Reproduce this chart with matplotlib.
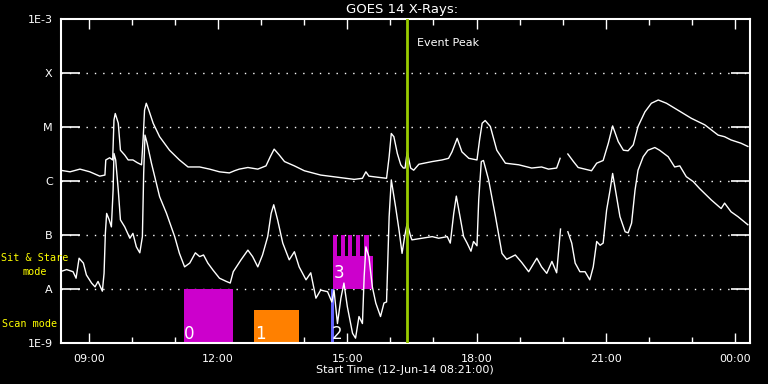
import numpy as np
import matplotlib
matplotlib.use('Agg')
import matplotlib.pyplot as plt
from matplotlib.ticker import FixedLocator, FixedFormatter

# GOES 14 long channel (hours of 12-Jun-14, log10 W/m^2), nan = data gap
t_long = [8.33, 8.56, 8.79, 9.02, 9.25, 9.37, 9.39, 9.48, 9.55, 9.58, 9.61, 9.68, 9.73, 9.83,
          9.91, 10.02, 10.12, 10.22, 10.26, 10.29, 10.33, 10.39, 10.49, 10.64, 10.87, 11.10,
          11.30, 11.57, 11.80, 12.03, 12.26, 12.38, 12.49, 12.69, 12.92, 13.11, 13.21, 13.30,
          13.42, 13.54, 13.77, 14.00, 14.38, 14.77, 15.16, 15.35, 15.43, 15.50, 15.70, 15.91,
          15.97, 16.02, 16.08, 16.16, 16.24, 16.30, 16.34, 16.39, 16.47, 16.54, 16.66, 16.97,
          17.20, 17.35, 17.43, 17.55, 17.66, 17.82, 18.01, 18.07, 18.13, 18.20, 18.32, 18.47,
          18.67, 18.98, 19.28, 19.51, 19.67, 19.86, 19.94, 20.03, 20.12, 20.25, 20.36, 20.67,
          20.79, 20.94, 21.06, 21.16, 21.29, 21.41, 21.52, 21.64, 21.75, 21.91, 22.06, 22.22,
          22.41, 22.68, 22.99, 23.30, 23.61, 23.76, 23.91, 24.14, 24.30]
f_long = [-5.80, -5.83, -5.78, -5.83, -5.91, -5.89, -5.61, -5.57, -5.61, -4.87, -4.75, -4.93,
          -5.43, -5.52, -5.61, -5.61, -5.66, -5.70, -5.18, -4.69, -4.56, -4.69, -4.93, -5.18,
          -5.43, -5.61, -5.74, -5.74, -5.78, -5.83, -5.85, -5.81, -5.78, -5.75, -5.78, -5.72,
          -5.55, -5.41, -5.52, -5.64, -5.72, -5.81, -5.89, -5.93, -5.97, -5.95, -5.83, -5.91,
          -5.93, -5.95, -5.55, -5.12, -5.18, -5.49, -5.70, -5.76, -5.76, -5.46, -5.76, -5.80,
          -5.69, -5.64, -5.61, -5.58, -5.46, -5.21, -5.46, -5.58, -5.61, -5.24, -4.93, -4.88,
          -4.99, -5.43, -5.67, -5.70, -5.76, -5.74, -5.78, -5.76, -5.58, np.nan, -5.50, -5.64,
          -5.75, -5.81, -5.67, -5.62, -5.30, -4.98, -5.27, -5.43, -5.44, -5.33, -4.99, -4.72,
          -4.56, -4.50, -4.56, -4.69, -4.84, -4.96, -5.15, -5.18, -5.24, -5.30, -5.36]

# GOES 14 short channel
t_short = [8.33, 8.48, 8.63, 8.70, 8.77, 8.87, 8.94, 9.06, 9.14, 9.21, 9.31, 9.35, 9.38, 9.41,
           9.47, 9.52, 9.56, 9.58, 9.62, 9.68, 9.73, 9.83, 9.95, 10.02, 10.10, 10.18, 10.24,
           10.27, 10.30, 10.35, 10.45, 10.64, 10.80, 10.99, 11.10, 11.22, 11.34, 11.47, 11.57,
           11.66, 11.76, 11.88, 12.03, 12.19, 12.28, 12.35, 12.53, 12.69, 12.80, 12.92, 13.03,
           13.15, 13.23, 13.29, 13.38, 13.50, 13.65, 13.77, 13.88, 14.04, 14.15, 14.27, 14.38,
           14.54, 14.64, 14.69, 14.77, 14.85, 14.92, 15.00, 15.12, 15.19, 15.27, 15.35, 15.39,
           15.43, 15.50, 15.58, 15.66, 15.77, 15.85, 15.91, 15.97, 16.02, 16.12, 16.20, 16.27,
           16.33, 16.39, 16.47, 16.50, 16.74, 16.97, 17.12, 17.32, 17.39, 17.47, 17.53, 17.63,
           17.70, 17.78, 17.87, 17.93, 18.01, 18.05, 18.11, 18.16, 18.28, 18.44, 18.59, 18.70,
           18.90, 19.05, 19.21, 19.40, 19.51, 19.63, 19.75, 19.86, 19.95, 20.03, 20.12, 20.21,
           20.29, 20.40, 20.52, 20.63, 20.71, 20.79, 20.87, 20.94, 21.02, 21.10, 21.16, 21.25,
           21.33, 21.45, 21.52, 21.60, 21.68, 21.75, 21.87, 21.98, 22.14, 22.25, 22.45, 22.60,
           22.72, 22.87, 23.03, 23.18, 23.45, 23.68, 23.76, 23.91, 24.07, 24.30]
f_short = [-7.68, -7.64, -7.68, -7.80, -7.43, -7.52, -7.74, -7.89, -7.96, -7.86, -8.04, -7.71,
           -6.97, -6.60, -6.72, -6.85, -6.17, -5.49, -5.61, -6.17, -6.72, -6.85, -7.06, -6.97,
           -7.22, -7.33, -7.03, -5.86, -5.15, -5.30, -5.67, -6.29, -6.60, -7.03, -7.34, -7.59,
           -7.52, -7.33, -7.40, -7.37, -7.52, -7.65, -7.80, -7.86, -7.89, -7.68, -7.46, -7.28,
           -7.40, -7.59, -7.37, -7.03, -6.60, -6.44, -6.72, -7.15, -7.46, -7.31, -7.59, -7.83,
           -7.70, -8.17, -8.02, -8.05, -8.24, -8.02, -8.64, -8.17, -7.89, -8.33, -8.82, -8.91,
           -8.51, -8.64, -7.77, -7.22, -7.40, -7.96, -8.26, -8.51, -8.26, -8.24, -6.66, -5.98,
           -6.48, -6.91, -7.34, -7.03, -6.78, -7.03, -7.09, -7.06, -7.03, -7.06, -7.03, -7.15,
           -6.60, -6.28, -6.72, -7.03, -7.15, -7.30, -7.12, -7.20, -6.35, -5.64, -5.62, -5.98,
           -6.66, -7.34, -7.45, -7.37, -7.51, -7.68, -7.43, -7.59, -7.71, -7.49, -7.70, -6.89,
           np.nan, -6.94, -7.15, -7.52, -7.68, -7.68, -7.83, -7.59, -7.12, -7.19, -7.15, -6.54,
           -6.17, -5.86, -6.29, -6.66, -6.94, -6.96, -6.78, -6.17, -5.80, -5.55, -5.43, -5.38,
           -5.43, -5.55, -5.74, -5.72, -5.92, -6.01, -6.14, -6.35, -6.51, -6.41, -6.57, -6.66,
           -6.81]

# observing blocks: start, end (hours), bottom, top (log10)
obs_labels = ['0', '1', '2', '3']
obs_start = [11.20, 12.84, 14.62, 14.67]
obs_end = [12.35, 13.88, 14.68, 15.60]
obs_bottom = [-9.0, -9.0, -9.0, -8.0]
obs_top = [-8.0, -8.39, -8.0, -7.39]
obs_colors = ['#cc00cc', '#ff8000', '#6464ff', '#cc00cc']
# rasters of block 3
tooth_start = [14.67, 14.85, 15.02, 15.21, 15.39]
tooth_end = [14.75, 14.94, 15.11, 15.30, 15.50]

event_peak = 16.38
t0, t1 = 8.35, 24.35

ylevels = [-9, -8, -7, -6, -5, -4, -3]
ylabels = ['1E-9', 'A', 'B', 'C', 'M', 'X', '1E-3']
xticks = [9, 12, 15, 18, 21, 24]
xlabels = ['09:00', '12:00', '15:00', '18:00', '21:00', '00:00']

plt.rcParams['font.family'] = 'DejaVu Sans'
fig = plt.figure(figsize=(7.68, 3.84), dpi=100, facecolor='black')
ax = fig.add_axes([61 / 768, 1 - 343 / 384, 689 / 768, 324 / 384], facecolor='black')

ax.set_yscale('log')
ax.set_xlim(t0, t1)
ax.set_ylim(1e-9, 1e-3)

for lv in ylevels[1:-1]:
    ax.axhline(10.0 ** lv, color='white', lw=1, ls=(0, (1, 5)), zorder=1)

for s, e, b, tp, c in zip(obs_start, obs_end, obs_bottom, obs_top, obs_colors):
    ax.bar(s, 10 ** tp - 10 ** b, width=e - s, bottom=10 ** b, align='edge', color=c, lw=0, zorder=2)
for s, e in zip(tooth_start, tooth_end):
    ax.bar(s, 1e-7 - 10 ** obs_top[3], width=e - s, bottom=10 ** obs_top[3], align='edge',
           color=obs_colors[3], lw=0, zorder=2)

# block numbers, bottom-left inside each block
for i in range(3):
    ax.text(obs_start[i] + 0.01, 10 ** -8.93, obs_labels[i], color='white', fontsize=12, zorder=4)
ax.text(obs_start[3] + 0.02, 10 ** -7.80, obs_labels[3], color='white', fontsize=12, zorder=4)

ax.plot(t_long, 10 ** np.array(f_long), color='white', lw=1, zorder=3)
ax.plot(t_short, 10 ** np.array(f_short), color='white', lw=1, zorder=3)

ax.axvline(event_peak, color='#99cc00', lw=2, zorder=5)
ax.text(event_peak + 0.23, 10 ** -3.44, 'Event Peak', color='white', fontsize=8, va='center')

for sp in ax.spines.values():
    sp.set_color('white')
    sp.set_linewidth(1.5)

ax.yaxis.set_major_locator(FixedLocator([10.0 ** v for v in ylevels]))
ax.yaxis.set_major_formatter(FixedFormatter(ylabels))
ax.yaxis.set_minor_locator(FixedLocator([]))
ax.tick_params(axis='y', which='major', direction='in', length=14, width=1.2, color='white',
               labelcolor='white', labelsize=8, right=True, pad=6)

ax.xaxis.set_major_locator(FixedLocator(xticks))
ax.xaxis.set_major_formatter(FixedFormatter(xlabels))
ax.xaxis.set_minor_locator(FixedLocator(np.arange(9, 25)))
ax.tick_params(axis='x', which='major', direction='in', length=7, width=1, color='white',
               labelcolor='white', labelsize=8, top=True, pad=8)
ax.tick_params(axis='x', which='minor', direction='in', length=4, width=1, color='white', top=True)

fig.text(402 / 768, 1 - 9.5 / 384, 'GOES 14 X-Rays:', color='white', fontsize=9.5, ha='center', va='center')
fig.text(405 / 768, 1 - 370 / 384, 'Start Time (12-Jun-14 08:21:00)', color='white', fontsize=8,
         ha='center', va='center')
fig.text(35 / 768, 1 - 265 / 384, 'Sit & Stare\nmode', color='#ffff00', fontsize=7.3,
         family='DejaVu Sans Mono', ha='center', va='center', linespacing=1.4)
fig.text(2 / 768, 1 - 324 / 384, 'Scan mode', color='#ffff00', fontsize=7.3,
         family='DejaVu Sans Mono', ha='left', va='center')

fig.savefig('out.png', dpi=100, facecolor='black')
